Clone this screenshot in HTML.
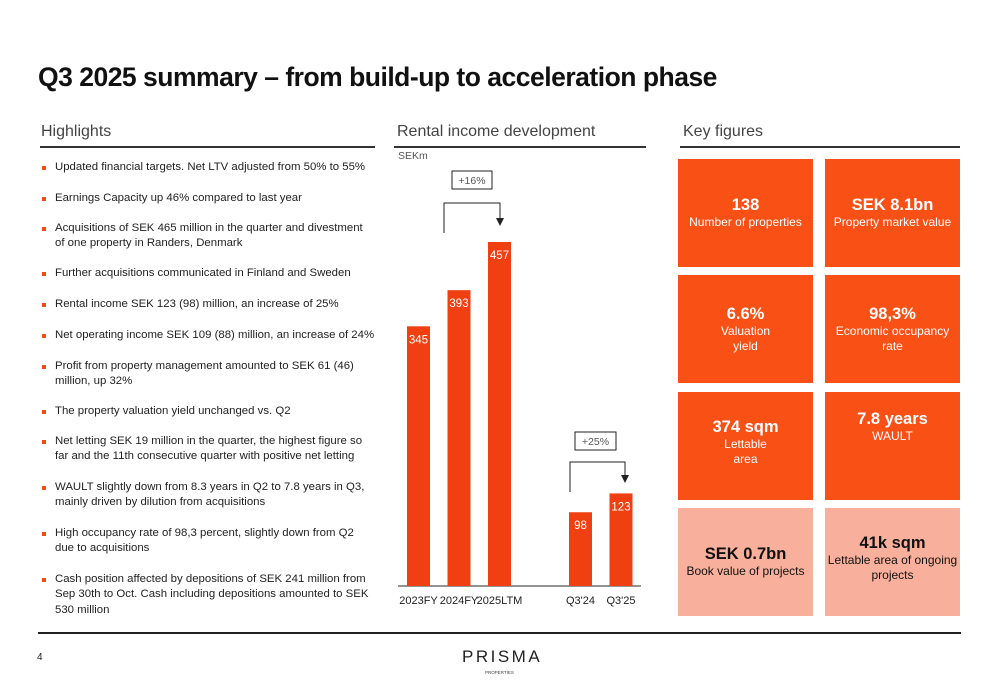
<!DOCTYPE html>
<html><head><meta charset="utf-8"><style>
body{margin:0;width:1000px;height:685px;background:#fff;position:relative;overflow:hidden;font-family:"Liberation Sans",sans-serif;color:#222}
.a{position:absolute}
.title{left:38px;top:62px;font-size:26.5px;font-weight:bold;color:#111;letter-spacing:-0.5px}
.sec{font-size:16px;color:#444;top:123px}
.rule{height:1.5px;background:#333;top:146px}
.b{left:55px;font-size:11.4px;line-height:15.3px;color:#222;width:335px;white-space:normal}
.b::before{content:"";position:absolute;left:-13px;top:6px;width:4px;height:4px;background:#f24a15}
.tile{width:135px;height:108px;background:#f95115;color:#fff;text-align:center;display:flex;flex-direction:column;justify-content:center;font-size:12px;line-height:15.5px}
.tile b{font-size:16.5px;line-height:20px}
.lt{background:#f8b09c;color:#111}
</style></head><body>
<div class="a title">Q3 2025 summary – from build-up to acceleration phase</div>
<div class="a sec" style="left:41px">Highlights</div>
<div class="a rule" style="left:40px;width:335px"></div>
<div class="a sec" style="left:397px">Rental income development</div>
<div class="a rule" style="left:394px;width:252px"></div>
<div class="a sec" style="left:683px">Key figures</div>
<div class="a rule" style="left:680px;width:280px"></div>

<div class="a b" style="top:160px">Updated financial targets. Net LTV adjusted from 50% to 55%</div>
<div class="a b" style="top:191px">Earnings Capacity up 46% compared to last year</div>
<div class="a b" style="top:221px;width:320px">Acquisitions of SEK 465 million in the quarter and divestment of one property in Randers, Denmark</div>
<div class="a b" style="top:266px">Further acquisitions communicated in Finland and Sweden</div>
<div class="a b" style="top:297px">Rental income SEK 123 (98) million, an increase of 25%</div>
<div class="a b" style="top:328px;white-space:nowrap">Net operating income SEK 109 (88) million, an increase of 24%</div>
<div class="a b" style="top:359px;width:315px">Profit from property management amounted to SEK 61 (46) million, up 32%</div>
<div class="a b" style="top:404px">The property valuation yield unchanged vs. Q2</div>
<div class="a b" style="top:434px;width:315px">Net letting SEK 19 million in the quarter, the highest figure so far and the 11th consecutive quarter with positive net letting</div>
<div class="a b" style="top:480px;width:315px">WAULT slightly down from 8.3 years in Q2 to 7.8 years in Q3, mainly driven by dilution from acquisitions</div>
<div class="a b" style="top:526px;width:315px">High occupancy rate of 98,3 percent, slightly down from Q2 due to acquisitions</div>
<div class="a b" style="top:572px;width:320px">Cash position affected by depositions of SEK 241 million from Sep 30th to Oct. Cash including depositions amounted to SEK 530 million</div>

<svg class="a" style="left:0;top:0" width="1000" height="685">
<text x="398" y="159" font-size="10.5" fill="#555" font-family="Liberation Sans">SEKm</text>
<line x1="398" y1="586" x2="641" y2="586" stroke="#555" stroke-width="1.2"/>
<g id="bars"></g>
<g stroke="#222" stroke-width="1" fill="none">
<rect x="452" y="171" width="40" height="18"/>
<polyline points="444,233 444,203 500,203 500,218"/>
<rect x="575" y="432" width="41" height="18"/>
<polyline points="570,492 570,462 625,462 625,475"/>
</g>
<polygon points="496,218 504,218 500,226" fill="#222"/>
<polygon points="621,475 629,475 625,483" fill="#222"/>
<text x="472" y="184" font-size="10.5" fill="#555" text-anchor="middle" font-family="Liberation Sans">+16%</text>
<text x="595.5" y="445" font-size="10.5" fill="#555" text-anchor="middle" font-family="Liberation Sans">+25%</text>
</svg>
<script>
const categories=["2023FY","2024FY","2025LTM","Q3'24","Q3'25"];
const values=[345,393,457,98,123];
const slot=[0,1,2,4,5];
const base=586, scale=344/457;
const xAt=i=>407+slot[i]*40.5, yAt=v=>base-v*scale;
const g=document.getElementById('bars'),ns="http://www.w3.org/2000/svg";
values.forEach((v,i)=>{
 const r=document.createElementNS(ns,'rect');
 r.setAttribute('x',xAt(i));r.setAttribute('y',yAt(v));r.setAttribute('width',23);r.setAttribute('height',base-yAt(v));r.setAttribute('fill','#f04012');
 
 
 g.appendChild(r);
 const t=document.createElementNS(ns,'text');
 t.setAttribute('x',xAt(i)+11.5);t.setAttribute('y',yAt(v)+17);t.setAttribute('text-anchor','middle');t.setAttribute('fill','#fff');t.setAttribute('font-size','11.5');t.setAttribute('font-family','Liberation Sans');
 t.textContent=v;
 
 
 g.appendChild(t);
 const c=document.createElementNS(ns,'text');
 c.setAttribute('x',xAt(i)+11.5);c.setAttribute('y',604);c.setAttribute('text-anchor','middle');c.setAttribute('fill','#222');c.setAttribute('font-size','11');c.setAttribute('font-family','Liberation Sans');
 c.textContent=categories[i];
 
 
 g.appendChild(c);
});
</script>

<div class="a tile" style="left:678px;top:159px"><b>138</b>Number of properties</div>
<div class="a tile" style="left:825px;top:159px"><b>SEK 8.1bn</b>Property market value</div>
<div class="a tile" style="left:678px;top:275px"><b>6.6%</b>Valuation<br>yield</div>
<div class="a tile" style="left:825px;top:275px"><b>98,3%</b>Economic occupancy<br>rate</div>
<div class="a tile" style="left:678px;top:392px;padding-bottom:8px;height:100px"><b>374 sqm</b>Lettable<br>area</div>
<div class="a tile" style="left:825px;top:392px;padding-bottom:38px;height:70px"><b>7.8 years</b>WAULT</div>
<div class="a tile lt" style="left:678px;top:508px"><b>SEK 0.7bn</b>Book value of projects</div>
<div class="a tile lt" style="left:825px;top:508px;padding-bottom:8px;height:100px"><b>41k sqm</b>Lettable area of ongoing projects</div>

<div class="a" style="left:38px;top:632px;width:923px;height:2px;background:#222"></div>
<div class="a" style="left:37px;top:652px;font-size:10px">4</div>
<div class="a" style="left:462px;top:647px;font-size:17px;letter-spacing:2.5px;color:#222">PRISMA</div>
<div class="a" style="left:485px;top:670px;font-size:4.5px;color:#444">PROPERTIES</div>
</body></html>
